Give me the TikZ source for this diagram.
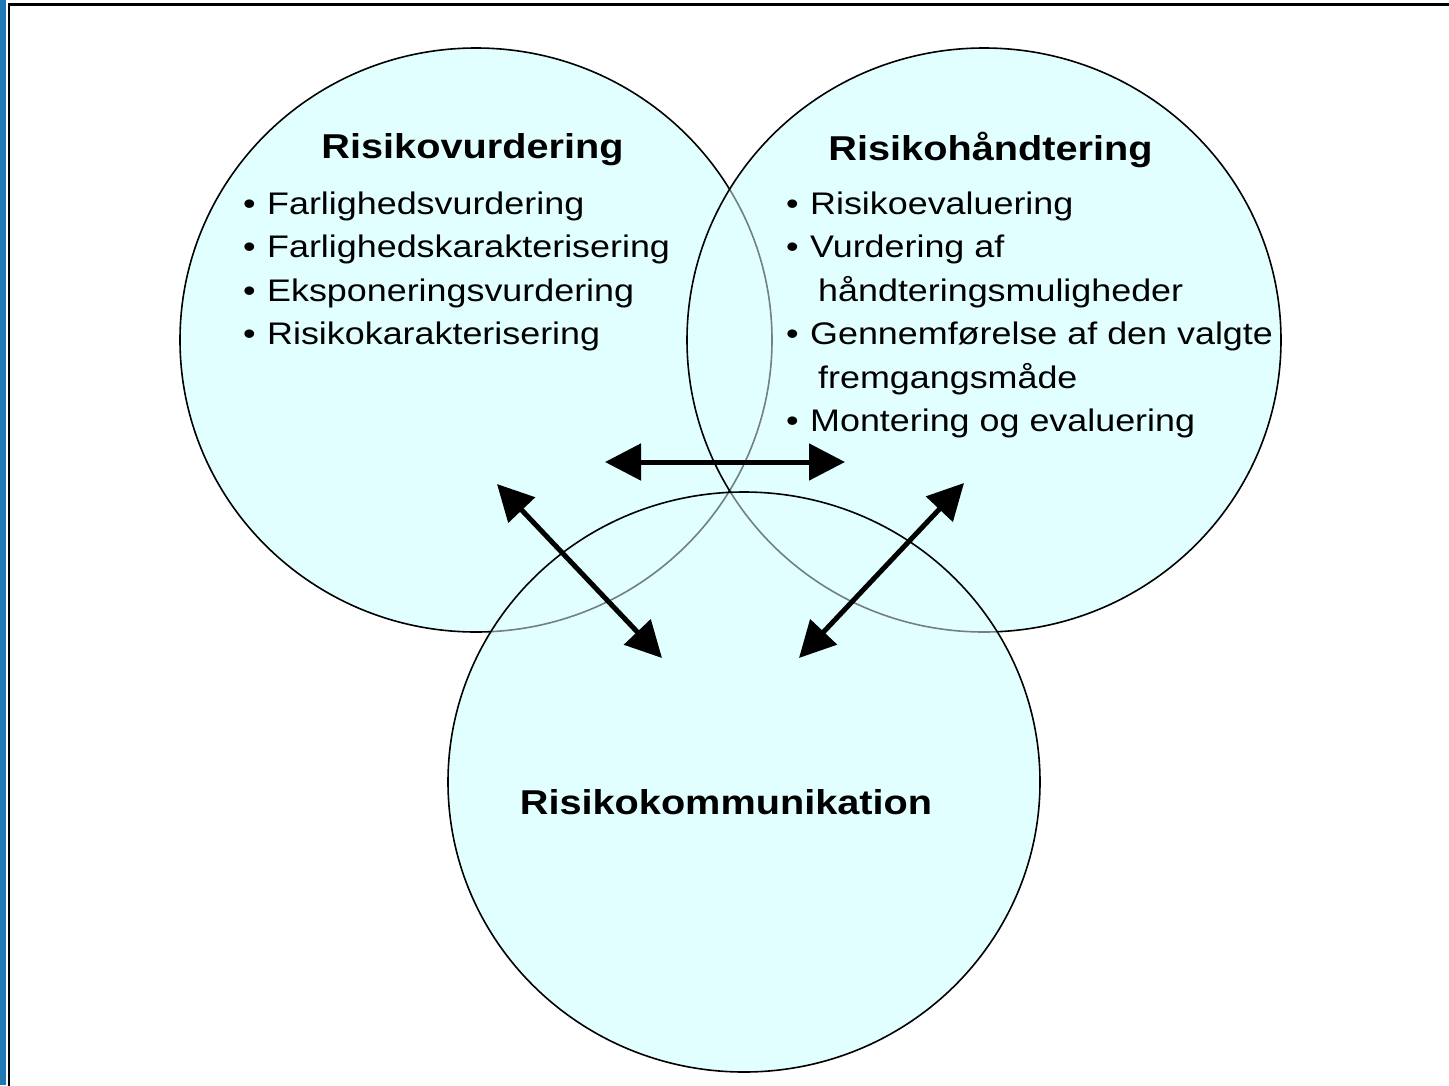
\documentclass[tikz,border=0pt]{standalone}
\usepackage{fontspec}
\setmainfont{Liberation Sans}[FakeStretch=1.15]
\usetikzlibrary{arrows.meta}
\definecolor{cfill}{RGB}{226,255,255}
\definecolor{cblue}{RGB}{31,119,180}
\newcommand{\bitem}[1]{\makebox[24pt][l]{\textbullet}#1}
\begin{document}
\begin{tikzpicture}[x=1pt,y=-1pt,
  outl/.style={line width=1.6pt, black},
  ttl/.style={font=\bfseries\fontsize{34.5}{40}\selectfont, anchor=base, inner sep=0pt},
  itm/.style={font=\fontsize{31.2}{36}\selectfont, anchor=base west, inner sep=0pt},
  dbl/.style={line width=5pt, {Triangle[length=36pt,width=36pt]}-{Triangle[length=36pt,width=36pt]}}]
\useasboundingbox (0,0) rectangle (1449,1085);
% frame
\fill[cblue] (0,0) rectangle (6,1085);
\draw[line width=3.5pt] (8,4.5) -- (1455,4.5);
\draw[line width=2.5pt] (9,3) -- (9,1090);
% circles
\fill[cfill] (476,340) ellipse [x radius=296pt, y radius=292pt];
\fill[cfill] (984,340) ellipse [x radius=297pt, y radius=292pt];
\fill[cfill] (744,782) ellipse [x radius=296pt, y radius=290pt];
\draw[outl] (476,340) ellipse [x radius=296pt, y radius=292pt];
\fill[cfill, fill opacity=0.5] (984,340) ellipse [x radius=297pt, y radius=292pt];
\draw[outl] (984,340) ellipse [x radius=297pt, y radius=292pt];
\fill[cfill, fill opacity=0.5] (744,782) ellipse [x radius=296pt, y radius=290pt];
\draw[outl] (744,782) ellipse [x radius=296pt, y radius=290pt];
% titles
\node[ttl] (t1) at (472.5,158) {Risikovurdering};
\node[ttl] (t2) at (990.5,160) {Risikohåndtering};
\node[ttl] (t3) at (726,814) {Risikokommunikation};
% left list
\node[itm] (l1) at (243,214) {\bitem{Farlighedsvurdering}};
\node[itm] (l2) at (243,257) {\bitem{Farlighedskarakterisering}};
\node[itm] (l3) at (243,301) {\bitem{Eksponeringsvurdering}};
\node[itm] (l4) at (243,344) {\bitem{Risikokarakterisering}};
% right list
\node[itm] (r1) at (786,214) {\bitem{Risikoevaluering}};
\node[itm] (r2) at (786,257) {\bitem{Vurdering af}};
\node[itm] (r3) at (818,301) {håndteringsmuligheder};
\node[itm] (r4) at (786,344) {\bitem{Gennemførelse af den valgte}};
\node[itm] (r5) at (818,388) {fremgangsmåde};
\node[itm] (r6) at (786,431) {\bitem{Montering og evaluering}};
% arrows
\coordinate (h1) at (605,462);
\coordinate (h2) at (845,462);
\coordinate (d1) at (497,484);
\coordinate (d2) at (662,658);
\coordinate (e1) at (964,483);
\coordinate (e2) at (799,658);
\draw[dbl] (h1) -- (h2);
\draw[dbl] (d1) -- (d2);
\draw[dbl] (e1) -- (e2);
\end{tikzpicture}
\end{document}
